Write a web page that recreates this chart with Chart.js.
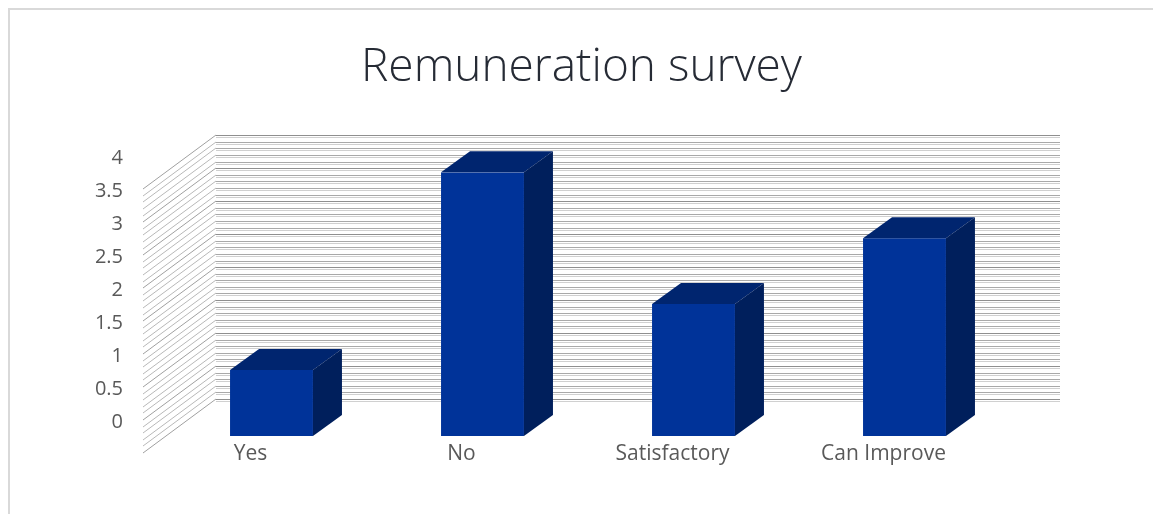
<!DOCTYPE html>
<html>
<head>
<meta charset="utf-8">
<script src="https://cdn.jsdelivr.net/npm/chart.js@4/dist/chart.umd.min.js"></script>
<style>
  html, body { margin: 0; padding: 0; background: #fff; }
  #wrap { width: 1153px; height: 514px; position: relative; }
</style>
</head>
<body>
<div id="wrap"><canvas id="surveyChart"></canvas></div>
<script>
var categories = ['Yes', 'No', 'Satisfactory', 'Can Improve'];
var responses = [1, 4, 2, 3];
var yMin = 0;
var yMax = 4;
var yStep = 0.5;
var gridStep = 0.1;

// depth offsets for the fake 3d look (pixels)
var wallBack = { dx: 50, dy: -37 };
var wallFront = { dx: -23, dy: 17 };
var barDepth = { dx: 29, dy: -21 };

var box3d = {
    id: 'box3d',
    beforeDraw: function (chart) {
        var ctx = chart.ctx;
        ctx.save();
        ctx.strokeStyle = '#d9d9d9';
        ctx.lineWidth = 2;
        ctx.beginPath();
        ctx.moveTo(9, chart.height);
        ctx.lineTo(9, 9);
        ctx.lineTo(chart.width, 9);
        ctx.stroke();
        ctx.restore();
    },
    beforeDatasetsDraw: function (chart) {
        var ctx = chart.ctx;
        var area = chart.chartArea;
        var y = chart.scales.y;
        var x0 = area.left + wallBack.dx;
        var x1 = area.right + wallBack.dx;
        ctx.save();
        ctx.lineWidth = 1;
        var n = Math.round((yMax - yMin) / gridStep);
        for (var i = 0; i <= n; i++) {
            var v = yMin + i * gridStep;
            var py = Math.round(y.getPixelForValue(v)) + wallBack.dy;
            var major = (i % 5 === 0);
            // back wall, each line is a soft double stripe
            ctx.strokeStyle = major ? '#8f8f8f' : '#a9a9a9';
            ctx.beginPath();
            ctx.moveTo(x0, py + 0.5);
            ctx.lineTo(x1, py + 0.5);
            ctx.stroke();
            ctx.strokeStyle = '#d0d0d0';
            ctx.beginPath();
            ctx.moveTo(x0, py + 2.5);
            ctx.lineTo(x1, py + 2.5);
            ctx.stroke();
            // side wall
            ctx.strokeStyle = major ? '#a0a0a0' : '#b8b8b8';
            ctx.beginPath();
            ctx.moveTo(area.left + wallFront.dx, py - wallBack.dy + wallFront.dy);
            ctx.lineTo(x0, py);
            ctx.stroke();
        }
        ctx.restore();
    },
    afterDatasetsDraw: function (chart) {
        var ctx = chart.ctx;
        var meta = chart.getDatasetMeta(0);
        ctx.save();
        meta.data.forEach(function (bar) {
            var p = bar.getProps(['x', 'y', 'base', 'width'], true);
            var l = p.x - p.width / 2;
            var r = p.x + p.width / 2;
            var top = p.y;
            var base = p.base;
            // top face
            ctx.fillStyle = '#00256f';
            ctx.beginPath();
            ctx.moveTo(l, top);
            ctx.lineTo(l + barDepth.dx, top + barDepth.dy);
            ctx.lineTo(r + barDepth.dx, top + barDepth.dy);
            ctx.lineTo(r, top);
            ctx.closePath();
            ctx.fill();
            // right face
            ctx.fillStyle = '#001f5c';
            ctx.beginPath();
            ctx.moveTo(r, top);
            ctx.lineTo(r + barDepth.dx, top + barDepth.dy);
            ctx.lineTo(r + barDepth.dx, base + barDepth.dy);
            ctx.lineTo(r, base);
            ctx.closePath();
            ctx.fill();
        });
        ctx.restore();
    }
};

var surveyChart = new Chart(document.getElementById('surveyChart').getContext('2d'), {
    type: 'bar',
    data: {
        labels: categories,
        datasets: [{
            data: responses,
            backgroundColor: '#003399',
            borderWidth: 0,
            barPercentage: 0.393,
            categoryPercentage: 1
        }]
    },
    plugins: [box3d],
    options: {
        responsive: true,
        maintainAspectRatio: false,
        animation: false,
        layout: {
            padding: { left: 10, right: 0, top: 0, bottom: 0 }
        },
        plugins: {
            legend: { display: false },
            tooltip: { enabled: false },
            title: {
                display: true,
                text: 'Remuneration survey',
                color: '#262b35',
                font: { family: 'Open Sans', size: 46, weight: '300' },
                padding: { top: 40, bottom: 77 }
            }
        },
        scales: {
            x: {
                grid: { display: false },
                border: { display: false },
                ticks: {
                    color: '#595959',
                    font: { family: 'Open Sans', size: 21 },
                    padding: -3,
                    labelOffset: -21,
                    maxRotation: 0
                },
                afterFit: function (s) { s.height = 78; }
            },
            y: {
                min: yMin,
                max: yMax,
                grid: { display: false, drawTicks: false },
                border: { display: false },
                ticks: {
                    stepSize: yStep,
                    color: '#595959',
                    font: { family: 'Open Sans', size: 20 },
                    padding: 43,
                    labelOffset: -14,
                    callback: function (value) { return String(value); }
                },
                afterFit: function (s) { s.width = 156; }
            },
            // empty right-hand strip, keeps room for the back wall depth
            yRight: {
                position: 'right',
                grid: { display: false, drawTicks: false },
                border: { display: false },
                ticks: { display: false },
                afterFit: function (s) { s.width = 143; }
            }
        }
    }
});
</script>
</body>
</html>
